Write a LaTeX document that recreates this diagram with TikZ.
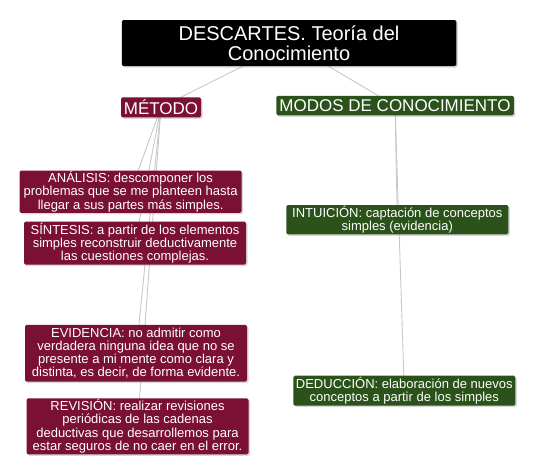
\documentclass[tikz,border=0pt]{standalone}
\usepackage{fontspec}
\setmainfont{Liberation Sans}
\usetikzlibrary{shadows,backgrounds}

\definecolor{granate}{RGB}{122,16,52}
\definecolor{verdeosc}{RGB}{42,82,26}
\definecolor{gris}{RGB}{200,200,200}

\tikzset{
  caja/.style={rounded corners=1.5pt, text=white, align=center, inner sep=1pt,
    drop shadow={shadow xshift=1.5pt, shadow yshift=-1.5pt, opacity=0.3}},
  cajatit/.style={caja, fill=black, font=\fontsize{20}{20.5}\selectfont},
  cajamet/.style={caja, fill=granate, font=\fontsize{17}{18}\selectfont},
  cajamod/.style={caja, fill=verdeosc, font=\fontsize{17}{18}\selectfont},
  textomet/.style={caja, fill=granate, minimum width=222pt, font=\fontsize{13}{13.2}\selectfont},
  textomod/.style={caja, fill=verdeosc, minimum width=222pt, font=\fontsize{13}{13.2}\selectfont},
  conector/.style={draw=gris, line width=0.9pt}
}

\begin{document}
\begin{tikzpicture}[x=1pt,y=-1pt]
  \useasboundingbox (0,0) rectangle (535,474);
  % cabecera
  \node[cajatit, minimum width=334.5pt, minimum height=46pt] (titulo) at (289,43)
    {DESCARTES. Teoría del\\Conocimiento};
  \node[cajamet, minimum width=80pt, minimum height=20pt] (metodo) at (161,107.3) {MÉTODO};
  \node[cajamod, minimum width=237.5pt, minimum height=19.5pt] (modos) at (395,105.5)
    {MODOS DE CONOCIMIENTO};
  % reglas del metodo
  \node[textomet, minimum height=42pt] (analisis) at (130.6,191.7)
    {ANÁLISIS: descomponer los\\problemas que se me planteen hasta\\llegar a sus partes más simples.};
  \node[textomet, minimum height=43pt] (sintesis) at (135,243.2)
    {SÍNTESIS: a partir de los elementos\\simples reconstruir deductivamente\\las cuestiones complejas.};
  \node[textomet, minimum height=56.7pt] (evidencia) at (136,353.3)
    {EVIDENCIA: no admitir como\\verdadera ninguna idea que no se\\presente a mi mente como clara y\\distinta, es decir, de forma evidente.};
  \node[textomet, minimum height=56pt] (revision) at (137.5,426.3)
    {REVISIÓN: realizar revisiones\\periódicas de las cadenas\\deductivas que desarrollemos para\\estar seguros de no caer en el error.};
  % modos
  \node[textomod, minimum height=29.3pt] (intuicion) at (397.3,219.7)
    {INTUICIÓN: captación de conceptos\\simples (evidencia)};
  \node[textomod, minimum height=30pt] (deduccion) at (404.3,390.7)
    {DEDUCCIÓN: elaboración de nuevos\\conceptos a partir de los simples};
  % conectores
  \begin{scope}[on background layer]
    \draw[conector] (titulo.center) -- (metodo.center);
    \draw[conector] (titulo.center) -- (modos.center);
    \foreach \n in {analisis, sintesis, evidencia, revision}
      \draw[conector] (metodo.center) -- (\n.center);
    \foreach \n in {intuicion, deduccion}
      \draw[conector] (modos.center) -- (\n.center);
  \end{scope}
\end{tikzpicture}
\end{document}
